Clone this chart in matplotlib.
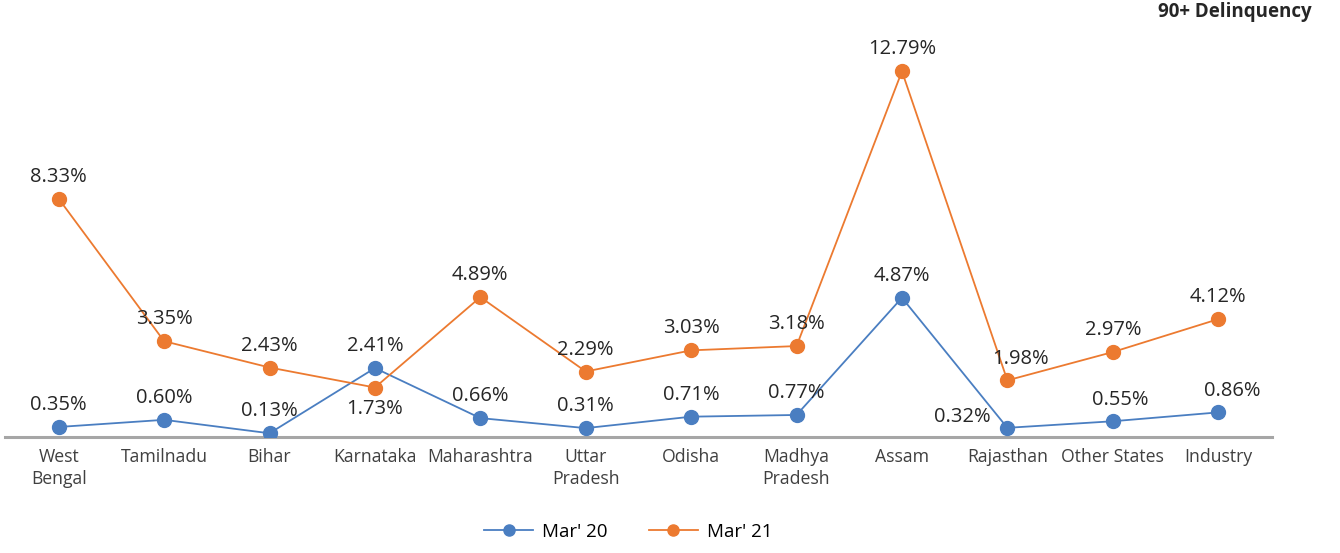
import matplotlib.pyplot as plt

plt.rcParams['font.family'] = ['Open Sans', 'DejaVu Sans']

states = ['West\nBengal', 'Tamilnadu', 'Bihar', 'Karnataka', 'Maharashtra', 'Uttar\nPradesh',
          'Odisha', 'Madhya\nPradesh', 'Assam', 'Rajasthan', 'Other States', 'Industry']
mar20 = [0.35, 0.60, 0.13, 2.41, 0.66, 0.31, 0.71, 0.77, 4.87, 0.32, 0.55, 0.86]
mar21 = [8.33, 3.35, 2.43, 1.73, 4.89, 2.29, 3.03, 3.18, 12.79, 1.98, 2.97, 4.12]

# label offsets in pixels (dx, dy), dy positive = up
off20 = {9: (-45, 11), 10: (7, 21), 11: (14, 21)}
off21 = {3: (0, -21), 9: (13, 21)}

blue = '#4A7EC1'
orange = '#EC7A30'
px = 0.72  # pixel -> points at dpi 100

fig = plt.figure(figsize=(13.4, 5.53), dpi=100)
ax = fig.add_axes([0.0037, 0.2098, 0.9455, 0.698])

x = list(range(len(states)))
ax.plot(x, mar20, color=blue, lw=1.3, marker='o', ms=10, label="Mar' 20", zorder=3)
ax.plot(x, mar21, color=orange, lw=1.3, marker='o', ms=10, label="Mar' 21", zorder=3)

for i, v in enumerate(mar20):
    dx, dy = off20.get(i, (0, 22))
    ax.annotate(f'{v:.2f}%', (i, v), xytext=(dx * px, dy * px), textcoords='offset points',
                ha='center', va='center', fontsize=14.5, color='#262626')
for i, v in enumerate(mar21):
    dx, dy = off21.get(i, (0, 22))
    ax.annotate(f'{v:.2f}%', (i, v), xytext=(dx * px, dy * px), textcoords='offset points',
                ha='center', va='center', fontsize=14.5, color='#262626')

ax.set_xlim(-0.51, 11.51)
ax.set_ylim(0, 13.5)
ax.set_xticks(x)
ax.set_xticklabels(states, fontsize=12.7, color='#404040', linespacing=1.3)
ax.tick_params(axis='x', length=0, pad=8)
ax.set_yticks([])
for s in ['top', 'right', 'left']:
    ax.spines[s].set_visible(False)
ax.spines['bottom'].set_color('#A6A6A6')
ax.spines['bottom'].set_linewidth(2.2)
ax.set_facecolor('none')

fig.text(0.979, 0.997, '90+ Delinquency', ha='right', va='top', fontsize=13.5,
         fontweight='bold', color='#262626')

fig.legend(loc='center', bbox_to_anchor=(0.469, 0.038), ncol=2, frameon=False,
           fontsize=13.5, handlelength=2.6, handletextpad=0.5, columnspacing=2.2,
           markerscale=0.8)

fig.savefig('out.png', dpi=100)
